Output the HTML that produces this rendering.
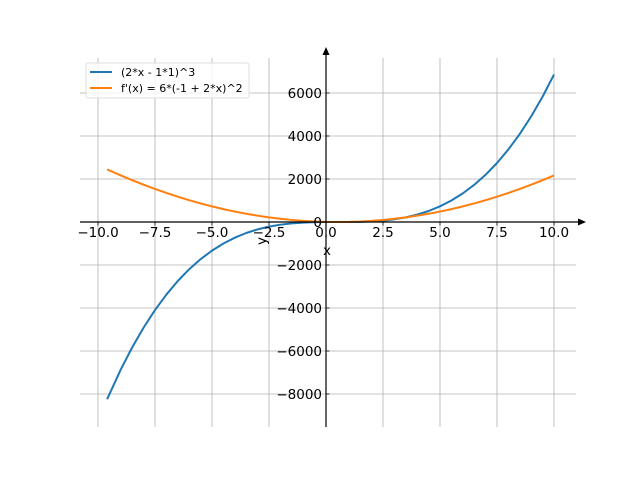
<!DOCTYPE html>
<html><head><meta charset="utf-8"><style>
body{margin:0;background:#fff}
svg{display:block;font-family:"DejaVu Sans","Liberation Sans",sans-serif}
</style></head><body>
<svg id="chart" width="640" height="480" viewBox="0 0 640 480">
<g id="grid"></g>
<g id="curves"></g>
<g id="axes"></g>
<g id="ticks"></g>
<text x="327" y="255" font-size="13.5" text-anchor="middle">x</text>
<text transform="translate(266,241) rotate(-90)" font-size="13.5" text-anchor="middle">y</text>
<g>
<rect x="86" y="63" width="163" height="35" rx="2" fill="#fff" fill-opacity="0.8" stroke="#ddd"/>
<line x1="90" y1="72" x2="112" y2="72" stroke="#1f77b4" stroke-width="2"/>
<text x="121" y="76" font-size="11">(2*x - 1*1)^3</text>
<line x1="90" y1="88" x2="112" y2="88" stroke="#ff7f0e" stroke-width="2"/>
<text x="121" y="92" font-size="11">f'(x) = 6*(-1 + 2*x)^2</text>
</g>
</svg>
<script>
const xTicks=[-10,-7.5,-5,-2.5,0,2.5,5,7.5,10];
const xTickLabels=["−10.0","−7.5","−5.0","−2.5","0.0","2.5","5.0","7.5","10.0"];
const yTicks=[-8000,-6000,-4000,-2000,0,2000,4000,6000];
const yTickLabels=["−8000","−6000","−4000","−2000","0","2000","4000","6000"];
const xs=[-9.6,-9,-8.5,-8,-7.5,-7,-6.5,-6,-5.5,-5,-4.5,-4,-3.5,-3,-2.5,-2,-1.5,-1,-0.5,0,0.5,1,1.5,2,2.5,3,3.5,4,4.5,5,5.5,6,6.5,7,7.5,8,8.5,9,9.5,10];
const cubicValues=[-8242.4,-6859,-5832,-4913,-4096,-3375,-2744,-2197,-1728,-1331,-1000,-729,-512,-343,-216,-125,-64,-27,-8,-1,0,1,8,27,64,125,216,343,512,729,1000,1331,1728,2197,2744,3375,4096,4913,5832,6859];
const derivValues=[2448.2,2166,1944,1734,1536,1350,1176,1014,864,726,600,486,384,294,216,150,96,54,24,6,0,6,24,54,96,150,216,294,384,486,600,726,864,1014,1176,1350,1536,1734,1944,2166];
const NS="http://www.w3.org/2000/svg";
const X=v=>326+v*22.8, Y=v=>222-v*0.0215;
function mk(t,a,p){const e=document.createElementNS(NS,t);for(const k in a)e.setAttribute(k,a[k]);p.appendChild(e);return e;}
const grid=document.getElementById('grid'),ticks=document.getElementById('ticks'),axes=document.getElementById('axes'),curves=document.getElementById('curves');
xTicks.forEach((v,i)=>{
 const g=mk('line',{x1:X(v),x2:X(v),y1:58,y2:427,stroke:'#b0b0b0','stroke-width':0.8},grid);
 
 
 const t=mk('line',{x1:X(v),x2:X(v),y1:222,y2:225.5,stroke:'#000','stroke-width':0.8},ticks);
 
 
 const l=mk('text',{x:X(v),y:237,'font-size':13.5,'text-anchor':'middle'},ticks);l.textContent=xTickLabels[i];
 
 
});
yTicks.forEach((v,i)=>{
 const g=mk('line',{x1:80,x2:576,y1:Y(v),y2:Y(v),stroke:'#b0b0b0','stroke-width':0.8},grid);
 
 
 const t=mk('line',{x1:326,x2:329.5,y1:Y(v),y2:Y(v),stroke:'#000','stroke-width':0.8},ticks);
 
 
 const l=mk('text',{x:322,y:Y(v)+5,'font-size':13.5,'text-anchor':'end'},ticks);l.textContent=yTickLabels[i];
 
 
});
const c1=mk('polyline',{points:xs.map((x,i)=>X(x)+','+Y(cubicValues[i])).join(' '),fill:'none',stroke:'#1f77b4','stroke-width':2,'stroke-linejoin':'round'},curves);


const c2=mk('polyline',{points:xs.map((x,i)=>X(x)+','+Y(derivValues[i])).join(' '),fill:'none',stroke:'#ff7f0e','stroke-width':2,'stroke-linejoin':'round'},curves);


const xa=mk('line',{x1:80,x2:580,y1:222,y2:222,stroke:'#000','stroke-width':1.2},axes);


const xh=mk('polygon',{points:'586,222 578,218.5 578,225.5',fill:'#000'},axes);


const ya=mk('line',{x1:326,x2:326,y1:54,y2:427,stroke:'#000','stroke-width':1.2},axes);


const yh=mk('polygon',{points:'326,47 322.5,55 329.5,55',fill:'#000'},axes);


</script>
</body></html>
